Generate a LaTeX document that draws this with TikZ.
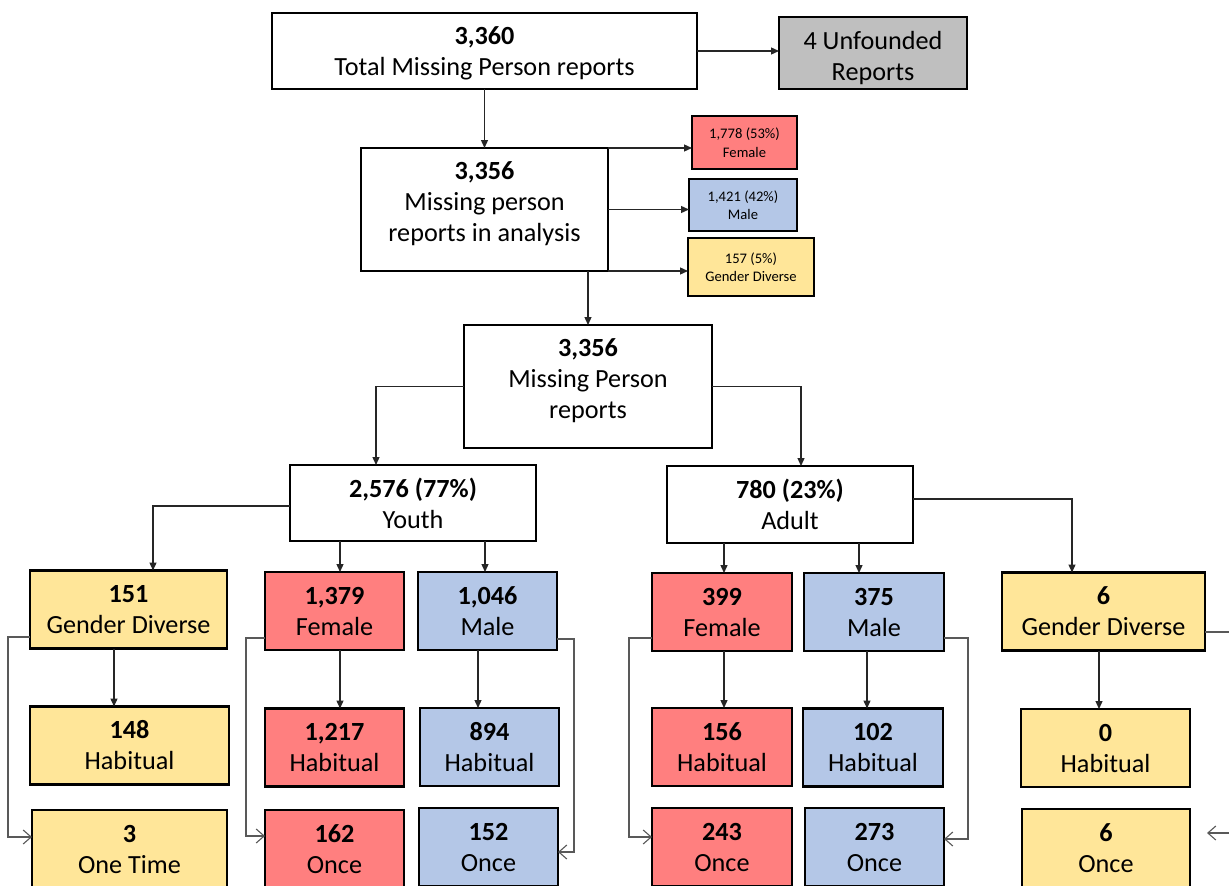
\documentclass[tikz,border=0pt]{standalone}
\usepackage{fontspec}
\setmainfont{Carlito}
\usepackage{xcolor}
\usetikzlibrary{arrows.meta}
\definecolor{femred}{HTML}{FF7F7F}
\definecolor{malblue}{HTML}{B4C7E7}
\definecolor{gdyellow}{HTML}{FFE699}
\definecolor{unfgray}{HTML}{BFBFBF}

\begin{document}
\begin{tikzpicture}[x=1pt,y=-1pt,inner sep=0pt,outer sep=0pt]
    \tikzstyle{box} = [rectangle, draw=black, line width=2.2pt, align=center, fill=white, font=\fontsize{26.2}{31}\selectfont]
    \tikzstyle{tag} = [box, line width=1.8pt, font=\fontsize{14.6}{18.5}\selectfont]
    \tikzstyle{cell} = [box, minimum height=78]
    \tikzstyle{fem} = [fill=femred]
    \tikzstyle{mal} = [fill=malblue]
    \tikzstyle{gdv} = [fill=gdyellow]
    \tikzstyle{link} = [draw=black!85, line width=1.3pt, -{Triangle[length=8pt,width=7pt]}]
    \tikzstyle{skip} = [draw=black!65, line width=1.1pt, -{Straight Barb[length=8pt,width=14pt]}]
    \clip (0,0) rectangle (1229,886);
    \fill[white] (0,0) rectangle (1229,886);

    \node (tot) [box, minimum width=425, minimum height=76, text depth=0] at (484.5,51) {\textbf{3,360}\\Total Missing Person reports};
    \node (unf) [box, fill=unfgray, minimum width=188, minimum height=72, text height=55, text depth=0] at (873,53) {4 Unfounded\\Reports};
    \node (ana) [box, minimum width=247, minimum height=123, text depth=16] at (484.5,209.5) {\textbf{3,356}\\Missing person\\reports in analysis};
    \node (tfe) [tag, fem, minimum width=105, minimum height=53] at (744.5,142.5) {1,778 (53\%)\\Female};
    \node (tma) [tag, mal, minimum width=108, minimum height=52] at (743,205) {1,421 (42\%)\\Male};
    \node (tgd) [tag, gdv, minimum width=126, minimum height=58] at (751,267) {157 (5\%)\\Gender Diverse};
    \node (mpr) [box, minimum width=248, minimum height=123, text depth=16] at (588,386.5) {\textbf{3,356}\\Missing Person\\reports};
    \node (yth) [box, minimum width=246, minimum height=76] at (413,503) {\textbf{2,576 (77\%)}\\Youth};
    \node (adl) [box, minimum width=246, minimum height=77] at (790,504.5) {\textbf{780 (23\%)}\\Adult};

    \node (ygd) [cell, gdv, minimum width=197] at (128.5,609.5) {\textbf{151}\\Gender Diverse};
    \node (yfe) [cell, fem, minimum width=139] at (334.5,611) {\textbf{1,379}\\Female};
    \node (yma) [cell, mal, minimum width=139] at (487.5,611) {\textbf{1,046}\\Male};
    \node (afe) [cell, fem, minimum width=140] at (722,612) {\textbf{399}\\Female};
    \node (ama) [cell, mal, minimum width=140] at (874,612) {\textbf{375}\\Male};
    \node (agd) [cell, gdv, minimum width=203] at (1103.5,611.5) {\textbf{6}\\Gender Diverse};

    \node (ygdh) [cell, gdv, minimum width=199] at (129.5,745.5) {\textbf{148}\\Habitual};
    \node (yfeh) [cell, fem, minimum width=139] at (334.5,747.5) {\textbf{1,217}\\Habitual};
    \node (ymah) [cell, mal, minimum width=139] at (489.5,747) {\textbf{894}\\Habitual};
    \node (afeh) [cell, fem, minimum width=140] at (722,747) {\textbf{156}\\Habitual};
    \node (amah) [cell, mal, minimum width=140] at (873,747.5) {\textbf{102}\\Habitual};
    \node (agdh) [cell, gdv, minimum width=169] at (1105.5,748) {\textbf{0}\\Habitual};

    \node (ygdo) [cell, gdv, minimum width=195] at (129.5,849) {\textbf{3}\\One Time};
    \node (yfeo) [cell, fem, minimum width=139] at (334.5,849) {\textbf{162}\\Once};
    \node (ymao) [cell, mal, minimum width=139] at (488.5,847) {\textbf{152}\\Once};
    \node (afeo) [cell, fem, minimum width=140] at (722,847) {\textbf{243}\\Once};
    \node (amao) [cell, mal, minimum width=139] at (874.5,847) {\textbf{273}\\Once};
    \node (agdo) [cell, gdv, minimum width=168] at (1106,848) {\textbf{6}\\Once};

    \draw[link] (tot.east) -- (tot.east -| unf.west);
    \draw[link] (tot.south) -- (ana.north);
    \draw[link] (ana.north east) -- (ana.north east -| tfe.west);
    \draw[link] (ana.east) -- (ana.east -| tma.west);
    \draw[link] (ana.south east) -- (ana.south east -| tgd.west);
    \draw[link] (ana.south -| mpr.north) -- (mpr.north);
    \draw[link] (mpr.west) -| ([xshift=-37]yth.north);
    \draw[link] (mpr.east) -| ([xshift=11]adl.north);

    \draw[link] ([yshift=-3]yth.west) -| ([xshift=24.5]ygd.north);
    \draw[link] ([xshift=5.5]yfe.north |- yth.south) -- ([xshift=5.5]yfe.north);
    \draw[link] ([xshift=-2.5]yma.north |- yth.south) -- ([xshift=-2.5]yma.north);
    \draw[link] ([xshift=2]afe.north |- adl.south) -- ([xshift=2]afe.north);
    \draw[link] ([xshift=-15]ama.north |- adl.south) -- ([xshift=-15]ama.north);
    \draw[link] ([yshift=5.5]adl.east) -| ([xshift=-31.5]agd.north);

    \draw[link] ([xshift=-14.5]ygd.south) -- ([xshift=-14.5]ygd.south |- ygdh.north);
    \draw[link] ([xshift=5.5]yfe.south) -- ([xshift=5.5]yfe.south |- yfeh.north);
    \draw[link] ([xshift=-9.5]yma.south) -- ([xshift=-9.5]yma.south |- ymah.north);
    \draw[link] ([xshift=2]afe.south) -- ([xshift=2]afe.south |- afeh.north);
    \draw[link] ([xshift=-7]ama.south) -- ([xshift=-7]ama.south |- amah.north);
    \draw[link] ([xshift=-4.5]agd.south) -- ([xshift=-4.5]agd.south |- agdh.north);

    \draw[skip] ([yshift=-27.5]ygd.west) -- ++(-22,0) |- ([yshift=12]ygdo.west);
    \draw[skip] ([yshift=-27]yfe.west) -- ++(-19,0) |- ([yshift=13]yfeo.west);
    \draw[skip] ([yshift=-28]yma.east) -- ++(17,0) |- ([yshift=-5]ymao.east);
    \draw[skip] ([yshift=-26]afe.west) -- ++(-23,0) |- ([yshift=10]afeo.west);
    \draw[skip] ([yshift=-26]ama.east) -- ++(24,0) |- ([yshift=8]amao.east);
    \draw[skip, shorten >=17pt] ([yshift=-20.5]agd.east) -- ++(40,0) |- ([yshift=15]agdo.east);
\end{tikzpicture}
\end{document}
